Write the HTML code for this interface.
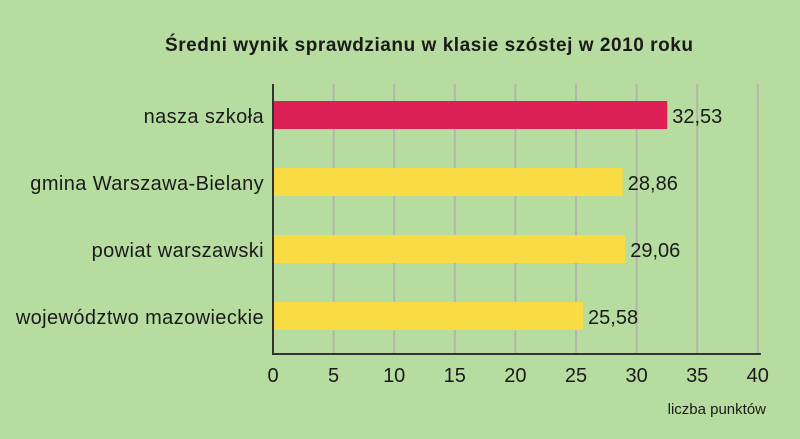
<!DOCTYPE html>
<html><head><meta charset="utf-8"><style>
body{margin:0;width:800px;height:434px;background:#b7dca0;overflow:hidden;font-family:"Liberation Sans",sans-serif}
</style></head><body>
<svg width="800" height="434" xmlns="http://www.w3.org/2000/svg">
<rect width="800" height="434" fill="#b7dca0"/>
<text x="429" y="51" text-anchor="middle" font-size="19" font-weight="bold" fill="#1a1a1a" textLength="528">Średni wynik sprawdzianu w klasie szóstej w 2010 roku</text>
<g id="grid"></g><g id="bars"></g><g id="ticks"></g>
<line x1="273" y1="84" x2="273" y2="354" stroke="#333" stroke-width="2"/>
<line x1="272" y1="354" x2="761" y2="354" stroke="#333" stroke-width="2"/>
<text x="766" y="414" text-anchor="end" font-size="15" fill="#1a1a1a">liczba punktów</text>
</svg>
<script>
const categories=["nasza szkoła","gmina Warszawa-Bielany","powiat warszawski","województwo mazowieckie"];
const values=[32.53,28.86,29.06,25.58];
const labels=["32,53","28,86","29,06","25,58"];
const ticks=[0,5,10,15,20,25,30,35,40];
const NS="http://www.w3.org/2000/svg";
const x=v=>273+v*12.12;
const yTop=i=>101+i*67;
function mk(t,a,p){const e=document.createElementNS(NS,t);for(const k in a)e.setAttribute(k,a[k]);p.appendChild(e);return e;}
const g=document.getElementById('grid'),b=document.getElementById('bars'),tk=document.getElementById('ticks');
ticks.forEach(t=>{
 if(t>0){const l=mk('line',{x1:x(t),x2:x(t),y1:84,y2:354,stroke:'#b0b8a8','stroke-width':2},g);
 
 }
 const tx=mk('text',{x:x(t),y:382,'text-anchor':'middle','font-size':20,fill:'#1a1a1a'},tk);tx.textContent=t;
 
 
});
categories.forEach((c,i)=>{
 const r=mk('rect',{x:274,y:yTop(i),width:x(values[i])-274,height:28,fill:i==0?'#dc2056':'#f9dc44'},b);
 
 
 const v=mk('text',{x:x(values[i])+5,y:yTop(i)+22,'font-size':20,fill:'#1a1a1a'},b);v.textContent=labels[i];
 
 
 const cl=mk('text',{x:264,y:yTop(i)+22,'text-anchor':'end','font-size':20,fill:'#1a1a1a','letter-spacing':'0.4'},b);cl.textContent=c;
 
 
});
</script>
</body></html>
